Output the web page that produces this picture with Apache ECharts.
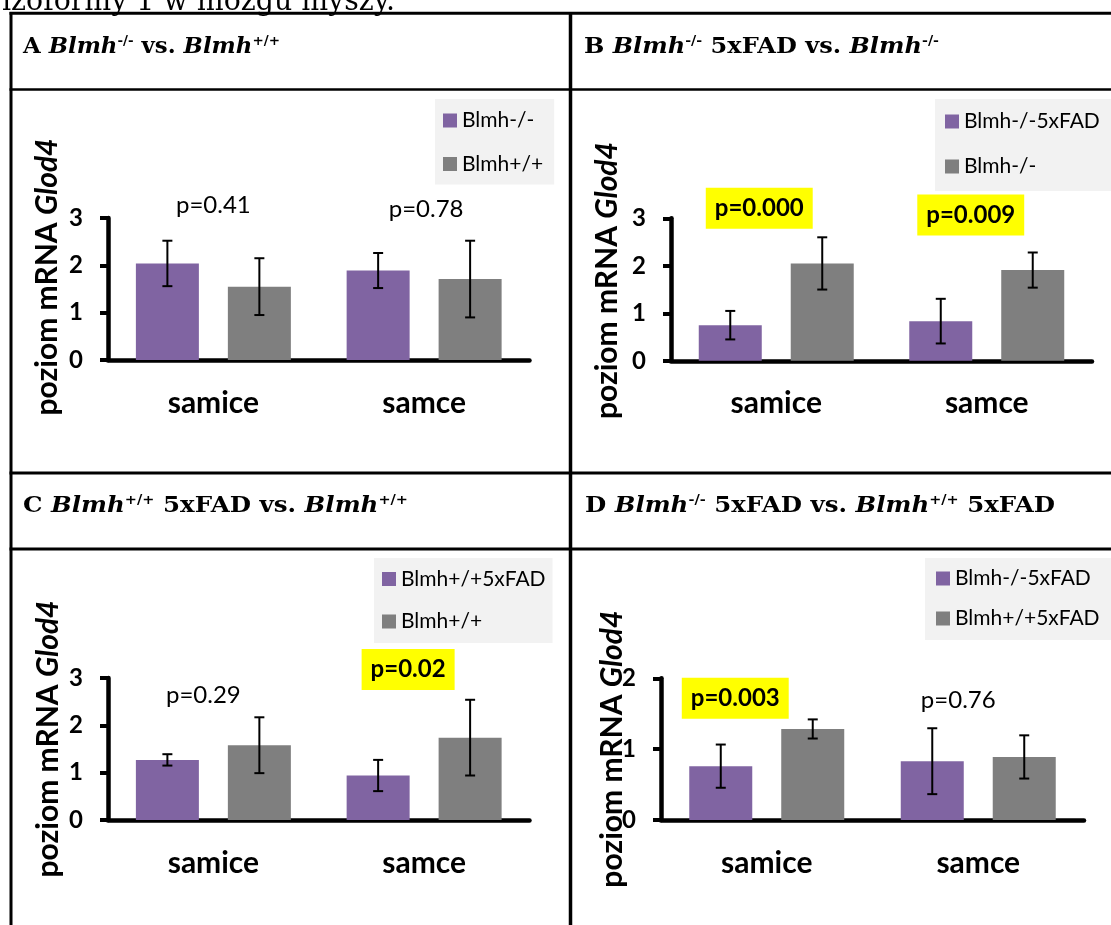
<!DOCTYPE html>
<html>
<head>
<meta charset="utf-8">
<script src="https://cdn.jsdelivr.net/npm/echarts@6/dist/echarts.min.js"></script>
<style>
  html, body { margin: 0; padding: 0; background: #fff; }
  body { width: 1111px; height: 925px; position: relative; overflow: hidden; }
  .chart { position: absolute; }
  svg { position: absolute; left: 0; top: 0; }
</style>
</head>
<body>
<div id="chartA" class="chart" style="left:0;top:91px;width:569px;height:381px"></div>
<div id="chartB" class="chart" style="left:570px;top:91px;width:541px;height:381px"></div>
<div id="chartC" class="chart" style="left:0;top:551px;width:569px;height:374px"></div>
<div id="chartD" class="chart" style="left:570px;top:551px;width:541px;height:374px"></div>

<svg width="1111" height="925">
  <text x="2" y="10" font-family="DejaVu Serif" font-size="30" textLength="393" lengthAdjust="spacingAndGlyphs">izoformy 1 w mózgu myszy.</text>
  <g stroke="#000">
    <line x1="9.5" y1="13.3" x2="1111" y2="13.3" stroke-width="3"/>
    <line x1="9.5" y1="89.5" x2="1111" y2="89.5" stroke-width="2.5"/>
    <line x1="9.5" y1="473" x2="1111" y2="473" stroke-width="3"/>
    <line x1="9.5" y1="549" x2="1111" y2="549" stroke-width="3"/>
    <line x1="11" y1="12" x2="11" y2="925" stroke-width="3"/>
    <line x1="570.5" y1="12" x2="570.5" y2="925" stroke-width="3.5"/>
  </g>
  <g font-family="DejaVu Serif" font-weight="bold" font-size="22" fill="#000">
    <text x="23" y="53" textLength="257" lengthAdjust="spacingAndGlyphs">A <tspan font-style="italic">Blmh</tspan><tspan font-size="13" dy="-8">-/-</tspan><tspan dy="8"> vs. </tspan><tspan font-style="italic">Blmh</tspan><tspan font-size="13" dy="-8">+/+</tspan></text>
    <text x="584" y="53" textLength="355" lengthAdjust="spacingAndGlyphs">B <tspan font-style="italic">Blmh</tspan><tspan font-size="13" dy="-8">-/-</tspan><tspan dy="8"> 5xFAD vs. </tspan><tspan font-style="italic">Blmh</tspan><tspan font-size="13" dy="-8">-/-</tspan></text>
    <text x="23" y="512" textLength="385" lengthAdjust="spacingAndGlyphs">C <tspan font-style="italic">Blmh</tspan><tspan font-size="13" dy="-8">+/+</tspan><tspan dy="8"> 5xFAD vs. </tspan><tspan font-style="italic">Blmh</tspan><tspan font-size="13" dy="-8">+/+</tspan></text>
    <text x="585" y="512" textLength="470" lengthAdjust="spacingAndGlyphs">D <tspan font-style="italic">Blmh</tspan><tspan font-size="13" dy="-8">-/-</tspan><tspan dy="8"> 5xFAD vs. </tspan><tspan font-style="italic">Blmh</tspan><tspan font-size="13" dy="-8">+/+</tspan><tspan dy="8"> 5xFAD</tspan></text>
  </g>
</svg>

<script>
const categories = ['samice', 'samce'];

// A: Blmh-/- vs. Blmh+/+
const legendA = ['Blmh-/-', 'Blmh+/+'];
const meanA1 = [2.04, 1.89];
const meanA2 = [1.55, 1.71];
const errA1 = [0.48, 0.37];
const errA2 = [0.60, 0.81];
const pTextA = ['p=0.41', 'p=0.78'];
const pSigA = [false, false];
const pYA = [3.26, 3.18];
const yMaxA = 3;

// B: Blmh-/- 5xFAD vs. Blmh-/-
const legendB = ['Blmh-/-5xFAD', 'Blmh-/-'];
const meanB1 = [0.75, 0.835];
const meanB2 = [2.05, 1.91];
const errB1 = [0.30, 0.47];
const errB2 = [0.55, 0.37];
const pTextB = ['p=0.000', 'p=0.009'];
const pSigB = [true, true];
const pYB = [3.21, 3.07];
const yMaxB = 3;

// C: Blmh+/+ 5xFAD vs. Blmh+/+
const legendC = ['Blmh+/+5xFAD', 'Blmh+/+'];
const meanC1 = [1.27, 0.94];
const meanC2 = [1.58, 1.74];
const errC1 = [0.12, 0.33];
const errC2 = [0.59, 0.80];
const pTextC = ['p=0.29', 'p=0.02'];
const pSigC = [false, true];
const pYC = [2.64, 3.18];
const yMaxC = 3;

// D: Blmh-/- 5xFAD vs. Blmh+/+ 5xFAD
const legendD = ['Blmh-/-5xFAD', 'Blmh+/+5xFAD'];
const meanD1 = [0.76, 0.83];
const meanD2 = [1.285, 0.89];
const errD1 = [0.305, 0.465];
const errD2 = [0.135, 0.305];
const pTextD = ['p=0.003', 'p=0.76'];
const pSigD = [true, false];
const pYD = [1.72, 1.685];
const yMaxD = 2;

const COLORS = ['#8064a2', '#7f7f7f'];
const BAR_W = 63;
const BAR_GAP = 0.46;
const SHIFT = BAR_W * (1 + BAR_GAP) / 2;
const CAP = 5;
const FONT = 'Lato';

function errorBars(means, errs, side) {
  return {
    type: 'custom',
    z: 5,
    silent: true,
    data: means.map((m, i) => [i, m - errs[i], m + errs[i]]),
    renderItem: function (params, api) {
      const lo = api.coord([api.value(0), api.value(1)]);
      const hi = api.coord([api.value(0), api.value(2)]);
      const x = lo[0] + side * SHIFT;
      const style = { stroke: '#000', lineWidth: 2 };
      return {
        type: 'group',
        children: [
          { type: 'line', shape: { x1: x, y1: hi[1], x2: x, y2: lo[1] }, style: style },
          { type: 'line', shape: { x1: x - CAP, y1: hi[1], x2: x + CAP, y2: hi[1] }, style: style },
          { type: 'line', shape: { x1: x - CAP, y1: lo[1], x2: x + CAP, y2: lo[1] }, style: style }
        ]
      };
    }
  };
}

function buildOption(d, L) {
  return {
    animation: false,
    grid: Object.assign({ outerBoundsMode: 'none' }, L.grid),
    legend: {
      data: d.legend,
      orient: 'vertical',
      left: L.legend.left,
      top: L.legend.top,
      padding: L.legend.padding,
      itemGap: L.legend.itemGap,
      itemWidth: 14,
      itemHeight: 14,
      icon: 'rect',
      selectedMode: false,
      backgroundColor: '#f2f2f2',
      textStyle: { fontFamily: FONT, fontSize: 21, color: '#000' }
    },
    xAxis: {
      type: 'category',
      data: categories,
      axisLine: { lineStyle: { color: '#000', width: 4.5 } },
      axisTick: { show: false },
      axisLabel: { margin: L.catMargin, fontFamily: FONT, fontWeight: 'bold', fontSize: 30, color: '#000' }
    },
    yAxis: {
      type: 'value',
      min: 0,
      max: d.yMax,
      interval: 1,
      splitLine: { show: false },
      axisLine: { show: true, lineStyle: { color: '#000', width: 4.5 } },
      axisTick: { show: true, length: 8, lineStyle: { color: '#000', width: 4 } },
      axisLabel: { margin: 25, fontFamily: FONT, fontWeight: 'bold', fontSize: 24, color: '#000' },
      name: 'poziom mRNA {i|Glod4}',
      nameLocation: 'middle',
      nameGap: L.nameGap,
      nameMoveOverlap: false,
      nameTextStyle: {
        fontFamily: FONT, fontWeight: 'bold', fontSize: 30, color: '#000',
        padding: [0, 0, 0, L.nameShift * 2],
        rich: { i: { fontFamily: FONT, fontWeight: 'bold', fontStyle: 'italic', fontSize: 30, color: '#000' } }
      }
    },
    series: [
      { type: 'bar', name: d.legend[0], data: d.m1, barWidth: BAR_W, barGap: '46%', itemStyle: { color: COLORS[0] } },
      { type: 'bar', name: d.legend[1], data: d.m2, barWidth: BAR_W, barGap: '46%', itemStyle: { color: COLORS[1] } },
      errorBars(d.m1, d.e1, -1),
      errorBars(d.m2, d.e2, 1),
      {
        type: 'scatter',
        symbolSize: 0,
        clip: false,
        silent: true,
        z: 6,
        itemStyle: { opacity: 1 },
        data: d.pY.map((y, i) => ({
          value: [i, y],
          label: d.pSig[i]
            ? { fontWeight: 'bold', backgroundColor: '#ffff00', padding: [9, 9, 8, 9], offset: [L.pOffset[i], 0] }
            : { fontWeight: 'normal', offset: [L.pOffset[i], 0] }
        })),
        label: {
          show: true,
          position: 'inside',
          fontFamily: FONT,
          fontSize: 24,
          color: '#000',
          opacity: 1,
          formatter: p => d.pText[p.dataIndex]
        }
      }
    ]
  };
}

const panels = [
  {
    id: 'chartA',
    d: { legend: legendA, m1: meanA1, m2: meanA2, e1: errA1, e2: errA2, pText: pTextA, pSig: pSigA, pY: pYA, yMax: yMaxA },
    L: { grid: { left: 108, top: 127, width: 421.5, height: 142 },
         legend: { left: 435, top: 8, padding: [11, 11, 10, 8], itemGap: 22.5 },
         nameGap: 46, nameShift: 12, catMargin: 28, pOffset: [0, 2] }
  },
  {
    id: 'chartB',
    d: { legend: legendB, m1: meanB1, m2: meanB2, e1: errB1, e2: errB2, pText: pTextB, pSig: pSigB, pY: pYB, yMax: yMaxB },
    L: { grid: { left: 101, top: 127.3, width: 421, height: 142.5 },
         legend: { left: 365, top: 8, padding: [12, 13, 14, 10], itemGap: 24 },
         nameGap: 49, nameShift: 9, catMargin: 28, pOffset: [-17, -16] }
  },
  {
    id: 'chartC',
    d: { legend: legendC, m1: meanC1, m2: meanC2, e1: errC1, e2: errC2, pText: pTextC, pSig: pSigC, pY: pYC, yMax: yMaxC },
    L: { grid: { left: 108, top: 127, width: 421.5, height: 142 },
         legend: { left: 374, top: 7, padding: [10.5, 7, 11, 8], itemGap: 21.5 },
         nameGap: 45, nameShift: 10, catMargin: 28, pOffset: [-10, -16] }
  },
  {
    id: 'chartD',
    d: { legend: legendD, m1: meanD1, m2: meanD2, e1: errD1, e2: errD2, pText: pTextD, pSig: pSigD, pY: pYD, yMax: yMaxD },
    L: { grid: { left: 91, top: 127.3, width: 423, height: 141.7 },
         legend: { left: 355, top: 7, padding: [10, 12, 11, 11], itemGap: 19 },
         nameGap: 34, nameShift: 0, catMargin: 28, pOffset: [-31.5, -20] }
  }
];

panels.forEach(p => {
  const chart = echarts.init(document.getElementById(p.id), null, { renderer: 'canvas' });
  chart.setOption(buildOption(p.d, p.L));
});
</script>
</body>
</html>
